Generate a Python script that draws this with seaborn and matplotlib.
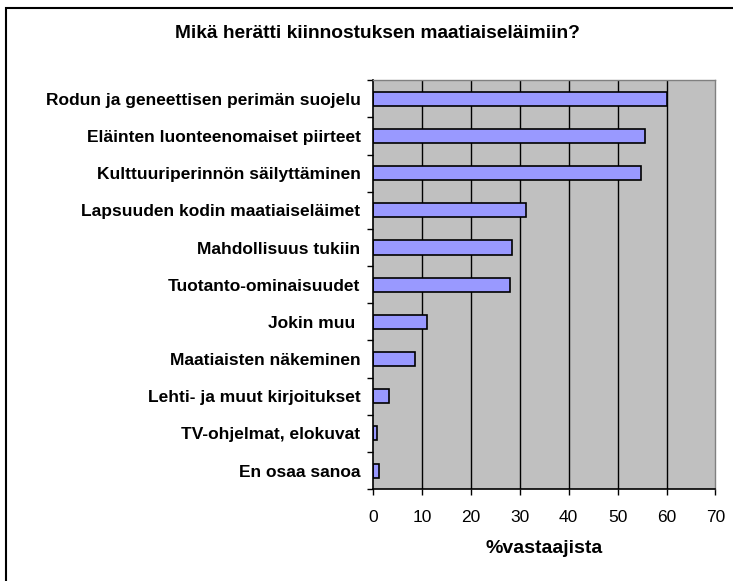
import matplotlib
matplotlib.use("Agg")
import matplotlib.pyplot as plt
import seaborn as sns
import pandas as pd
import numpy as np
from matplotlib.patches import Rectangle

# --- DATA ---
categories = [
    "Rodun ja geneettisen perimän suojelu",
    "Eläinten luonteenomaiset piirteet",
    "Kulttuuriperinnön säilyttäminen",
    "Lapsuuden kodin maatiaiseläimet",
    "Mahdollisuus tukiin",
    "Tuotanto-ominaisuudet",
    "Jokin muu ",
    "Maatiaisten näkeminen",
    "Lehti- ja muut kirjoitukset",
    "TV-ohjelmat, elokuvat",
    "En osaa sanoa",
]
values = [60.0, 55.7, 54.7, 31.2, 28.4, 28.0, 11.1, 8.5, 3.3, 0.7, 1.3]
x_ticks = [0, 10, 20, 30, 40, 50, 60, 70]

title = "Mikä herätti kiinnostuksen maatiaiseläimiin?"
x_label = "%vastaajista"

df = pd.DataFrame({"kategoria": categories, "osuus": values})

sns.set_theme(style="white")
plt.rcParams["font.family"] = ["Liberation Sans", "DejaVu Sans"]
plt.rcParams["text.color"] = "black"
plt.rcParams["xtick.color"] = "black"
plt.rcParams["ytick.color"] = "black"
plt.rcParams["axes.labelcolor"] = "black"

fig = plt.figure(figsize=(7.33, 5.81), dpi=100)
ax = fig.add_axes([0.509, 0.158, 0.467, 0.704])
ax.set_facecolor("#C0C0C0")

sns.barplot(data=df, x="osuus", y="kategoria", orient="h", color="#9999FF",
            edgecolor="black", linewidth=1.2, width=0.38, saturation=1, ax=ax)

ax.set_xlim(0, 70)
ax.set_ylim(len(categories) - 0.5, -0.5)
ax.set_xticks(x_ticks)
ax.set_xticklabels([str(t) for t in x_ticks], fontsize=12.5)
for t in x_ticks[1:-1]:
    ax.axvline(t, color="black", linewidth=1, zorder=0.5)

ax.tick_params(axis="y", which="major", length=0, pad=9, labelsize=12.5)
for lbl in ax.get_yticklabels():
    lbl.set_fontweight("bold")
ax.set_yticks(np.arange(-0.5, len(categories), 1.0), minor=True)
ax.tick_params(axis="y", which="minor", length=4, width=1, color="black", left=True)
ax.tick_params(axis="x", length=4, width=1, color="black", bottom=True, pad=11)

ax.set_xlabel(x_label, fontsize=14, fontweight="bold", labelpad=11)
ax.set_ylabel("")

for side in ["left", "bottom"]:
    ax.spines[side].set_color("black")
    ax.spines[side].set_linewidth(1.2)
for side in ["top", "right"]:
    ax.spines[side].set_color("#808080")
    ax.spines[side].set_linewidth(1)

fig.text(0.515, 0.943, title, ha="center", va="center", fontsize=13.8, fontweight="bold")

# outer frame
fig.patches.append(Rectangle((6 / 733, -0.05), 1.2, 1 - 8 / 581 + 0.05,
                             transform=fig.transFigure, fill=False,
                             edgecolor="black", linewidth=1.5))

fig.savefig("out.png", dpi=100)
